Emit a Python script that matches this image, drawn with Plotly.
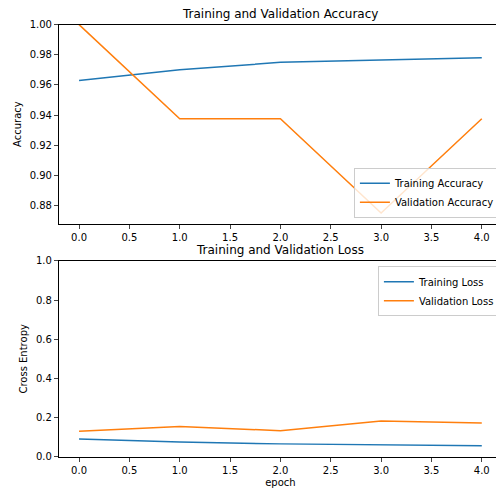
import plotly.graph_objects as go

epochs = [0, 1, 2, 3, 4]
acc = [0.963, 0.970, 0.975, 0.9765, 0.978]
val_acc = [1.0, 0.9375, 0.9375, 0.875, 0.9375]
loss = [0.091, 0.075, 0.066, 0.061, 0.057]
val_loss = [0.130, 0.155, 0.133, 0.183, 0.173]

blue = "#1f77b4"
orange = "#ff7f0e"

fig = go.Figure()
fig.add_trace(go.Scatter(x=epochs, y=acc, mode="lines", name="Training Accuracy",
                         line=dict(color=blue, width=1.5), xaxis="x", yaxis="y", legend="legend"))
fig.add_trace(go.Scatter(x=epochs, y=val_acc, mode="lines", name="Validation Accuracy",
                         line=dict(color=orange, width=1.5), xaxis="x", yaxis="y", legend="legend"))
fig.add_trace(go.Scatter(x=epochs, y=loss, mode="lines", name="Training Loss",
                         line=dict(color=blue, width=1.5), xaxis="x2", yaxis="y2", legend="legend2"))
fig.add_trace(go.Scatter(x=epochs, y=val_loss, mode="lines", name="Validation Loss",
                         line=dict(color=orange, width=1.5), xaxis="x2", yaxis="y2", legend="legend2"))

ax = dict(showline=True, mirror=True, linecolor="black", linewidth=1, showgrid=False,
          zeroline=False, ticks="outside", ticklen=4, tickfont=dict(size=10, color="black"))

fig.update_layout(
    width=504, height=496,
    margin=dict(l=0, r=0, t=0, b=0),
    paper_bgcolor="white", plot_bgcolor="white",
    font=dict(family="DejaVu Sans", color="black"),
    xaxis=dict(ax, domain=[0.101, 0.980], range=[-0.2, 4.2], dtick=0.5, anchor="y", tickformat=".1f"),
    yaxis=dict(ax, domain=[0.568, 0.978], range=[0.868, 1.0], dtick=0.02, tickformat=".2f",
               title=dict(text="Accuracy", font=dict(size=10), standoff=6)),
    xaxis2=dict(ax, domain=[0.101, 0.980], range=[-0.2, 4.2], dtick=0.5, anchor="y2", tickformat=".1f",
                title=dict(text="epoch", font=dict(size=10), standoff=4)),
    yaxis2=dict(ax, domain=[0.087, 0.491], range=[0, 1], dtick=0.2, tickformat=".1f", anchor="x2",
                title=dict(text="Cross Entropy", font=dict(size=10), standoff=6)),
    legend=dict(x=0.976, y=0.580, xanchor="right", yanchor="bottom", bordercolor="#cccccc",
                borderwidth=1, font=dict(size=10), bgcolor="rgba(255,255,255,0.8)",
                itemwidth=30, tracegroupgap=0),
    legend2=dict(x=0.976, y=0.480, xanchor="right", yanchor="top", bordercolor="#cccccc",
                 borderwidth=1, font=dict(size=10), bgcolor="rgba(255,255,255,0.8)",
                 itemwidth=30, tracegroupgap=0),
    annotations=[
        dict(text="Training and Validation Accuracy", x=0.54, y=0.982, xref="paper", yref="paper",
             xanchor="center", yanchor="bottom", showarrow=False, font=dict(size=12)),
        dict(text="Training and Validation Loss", x=0.54, y=0.495, xref="paper", yref="paper",
             xanchor="center", yanchor="bottom", showarrow=False, font=dict(size=12)),
    ],
)

fig.write_html("out.html")
